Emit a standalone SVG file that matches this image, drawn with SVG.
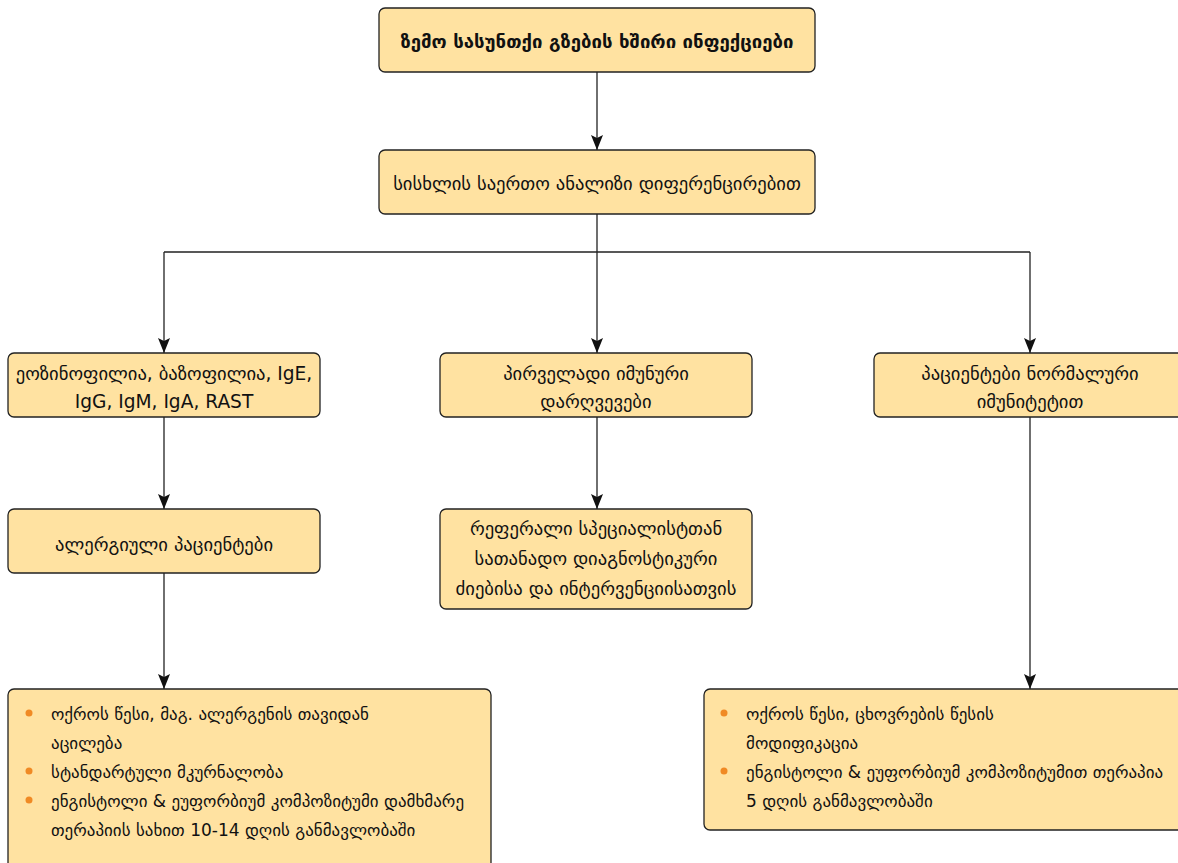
<svg xmlns="http://www.w3.org/2000/svg" width="1178" height="863" viewBox="0 0 1178 863">
<style>
.box{fill:#FFE2A1;stroke:#222;stroke-width:1.3}
.t{font-family:"DejaVu Sans",sans-serif;font-size:18.6px;fill:#111;text-anchor:middle}
.b{font-weight:bold}
.l{font-family:"DejaVu Sans",sans-serif;font-size:17px;fill:#111}
.dot{fill:#F08A24}
.c{fill:none;stroke:#222;stroke-width:1.3}
</style>
<defs>
<marker id="ah" viewBox="0 0 15 12" refX="15" refY="6" markerWidth="15" markerHeight="12" markerUnits="userSpaceOnUse" orient="auto">
<path d="M0,0 L15,6 L0,12 L3,6 z" fill="#111"/>
</marker>
</defs>
<rect width="1178" height="863" fill="#fff"/>
<g id="connectors">
<path class="c" d="M597,72 V150" marker-end="url(#ah)"/>
<path class="c" d="M597,214 V252 M164,252 H1030"/>
<path class="c" d="M164,252 V353" marker-end="url(#ah)"/>
<path class="c" d="M597,252 V353" marker-end="url(#ah)"/>
<path class="c" d="M1030,252 V353" marker-end="url(#ah)"/>
<path class="c" d="M164,417 V509" marker-end="url(#ah)"/>
<path class="c" d="M597,417 V509" marker-end="url(#ah)"/>
<path class="c" d="M164,573 V689" marker-end="url(#ah)"/>
<path class="c" d="M1030,417 V689" marker-end="url(#ah)"/>
</g>
<g id="n1">
<rect class="box" x="379" y="8" width="436" height="64" rx="6"/>
<text class="t b" x="597" y="48">ზემო სასუნთქი გზების ხშირი ინფექციები</text>
</g>
<g id="n2">
<rect class="box" x="379" y="150" width="436" height="64" rx="6"/>
<text class="t" x="597" y="190">სისხლის საერთო ანალიზი დიფერენცირებით</text>
</g>
<g id="n3">
<rect class="box" x="8" y="353" width="312" height="64" rx="6"/>
<text class="t" x="164" y="380">ეოზინოფილია, ბაზოფილია, IgE,</text>
<text class="t" x="164" y="408">IgG, IgM, IgA, RAST</text>
</g>
<g id="n4">
<rect class="box" x="440" y="353" width="312" height="64" rx="6"/>
<text class="t" x="596" y="380">პირველადი იმუნური</text>
<text class="t" x="596" y="408">დარღვევები</text>
</g>
<g id="n5">
<rect class="box" x="874" y="353" width="312" height="64" rx="6"/>
<text class="t" x="1030" y="380">პაციენტები ნორმალური</text>
<text class="t" x="1030" y="408">იმუნიტეტით</text>
</g>
<g id="n6">
<rect class="box" x="8" y="509" width="312" height="64" rx="6"/>
<text class="t" x="164" y="551">ალერგიული პაციენტები</text>
</g>
<g id="n7">
<rect class="box" x="440" y="509" width="312" height="100" rx="6"/>
<text class="t" x="596" y="535">რეფერალი სპეციალისტთან</text>
<text class="t" x="596" y="565">სათანადო დიაგნოსტიკური</text>
<text class="t" x="596" y="595">ძიებისა და ინტერვენციისათვის</text>
</g>
<g id="n8">
<rect class="box" x="8" y="689" width="483" height="180" rx="6"/>
<circle class="dot" cx="29" cy="713" r="3.5"/>
<circle class="dot" cx="29" cy="771" r="3.5"/>
<circle class="dot" cx="29" cy="800" r="3.5"/>
<text class="l" x="51" y="720">ოქროს წესი, მაგ. ალერგენის თავიდან</text>
<text class="l" x="51" y="749">აცილება</text>
<text class="l" x="51" y="778">სტანდარტული მკურნალობა</text>
<text class="l" x="51" y="807">ენგისტოლი &amp; ეუფორბიუმ კომპოზიტუმი დამხმარე</text>
<text class="l" x="51" y="836">თერაპიის სახით 10-14 დღის განმავლობაში</text>
</g>
<g id="n9">
<rect class="box" x="704" y="689" width="483" height="141" rx="6"/>
<circle class="dot" cx="724" cy="713" r="3.5"/>
<circle class="dot" cx="724" cy="771" r="3.5"/>
<text class="l" x="746" y="720">ოქროს წესი, ცხოვრების წესის</text>
<text class="l" x="746" y="749">მოდიფიკაცია</text>
<text class="l" x="746" y="778">ენგისტოლი &amp; ეუფორბიუმ კომპოზიტუმით თერაპია</text>
<text class="l" x="746" y="807">5 დღის განმავლობაში</text>
</g>
</svg>
